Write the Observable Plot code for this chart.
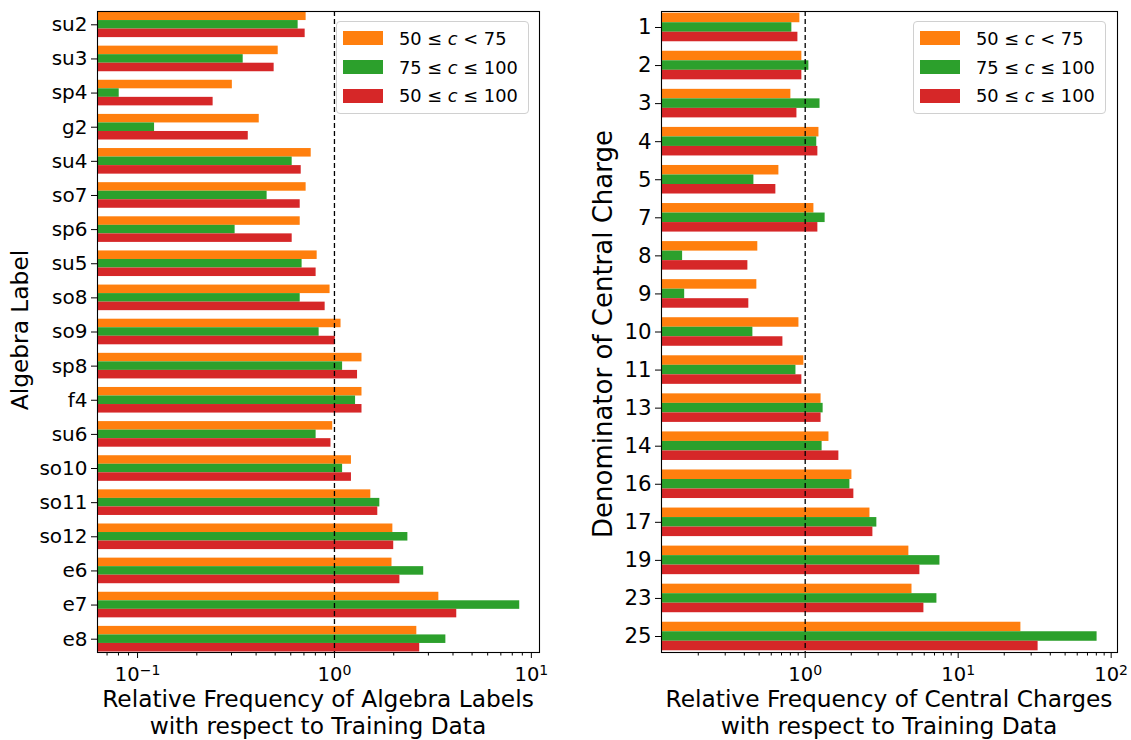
<!DOCTYPE html>
<html><head><meta charset="utf-8">
<script src="https://cdn.jsdelivr.net/npm/d3@7"></script>
<script src="https://cdn.jsdelivr.net/npm/@observablehq/plot@0.6"></script>
<style>
body{margin:0;background:#fff;font-family:"DejaVu Sans",sans-serif;color:#000;}
#fig{position:relative;width:1131px;height:740px;overflow:hidden;background:#fff;}
.panel{position:absolute;top:0;}
.panel svg{max-width:none !important;}
.xlab{position:absolute;text-align:center;font-size:23.3px;line-height:27px;white-space:nowrap;transform:translateX(-50%);}
.ylab{position:absolute;white-space:nowrap;line-height:1;transform:translate(-50%,-50%) rotate(-90deg);}
.legend{position:absolute;background:rgba(255,255,255,0.85);border:1px solid #d0d0d0;border-radius:4px;box-sizing:border-box;font-size:17.8px;padding-top:2px;}
.legend .row{display:flex;align-items:center;height:28.8px;white-space:nowrap;}
.legend .sw{width:40px;height:14px;margin:0 16px 0 6px;flex:none;}
</style></head>
<body><div id="fig"></div>
<script>
// ---------- data ----------
const seriesNames = ["50 ≤ c < 75", "75 ≤ c ≤ 100", "50 ≤ c ≤ 100"];
const seriesColors = ["#ff7f0e", "#2ca02c", "#d62728"];

const algebraLabels = ["su2","su3","sp4","g2","su4","so7","sp6","su5","so8","so9","sp8","f4","su6","so10","so11","so12","e6","e7","e8"];
const algebraLow  = [0.718,0.518,0.303,0.415,0.762,0.718,0.670,0.817,0.950,1.080,1.380,1.380,0.980,1.220,1.530,1.980,1.960,3.390,2.620];
const algebraHigh = [0.654,0.344,0.0807,0.122,0.610,0.455,0.313,0.685,0.670,0.836,1.100,1.280,0.807,1.100,1.700,2.360,2.840,8.730,3.680];
const algebraAll  = [0.710,0.494,0.242,0.365,0.678,0.670,0.610,0.807,0.897,1.010,1.310,1.380,0.960,1.220,1.660,2.000,2.150,4.180,2.710];

const denomLabels = ["1","2","3","4","5","7","8","9","10","11","13","14","16","17","19","23","25"];
const denomLow  = [0.923,0.951,0.806,1.230,0.673,1.140,0.490,0.483,0.910,0.980,1.270,1.430,2.020,2.650,4.760,4.990,25.7];
const denomHigh = [0.818,1.057,1.250,1.190,0.462,1.350,0.158,0.163,0.455,0.870,1.310,1.290,1.960,2.940,7.600,7.260,80.9];
const denomAll  = [0.896,0.951,0.883,1.210,0.643,1.210,0.422,0.428,0.715,0.951,1.270,1.660,2.080,2.770,5.620,5.970,33.3];

const leftXLabel = ["Relative Frequency of Algebra Labels", "with respect to Training Data"];
const rightXLabel = ["Relative Frequency of Central Charges", "with respect to Training Data"];
const leftYLabel = "Algebra Label";
const rightYLabel = "Denominator of Central Charge";

// ---------- helpers ----------
const fmtPow = v => "10^" + String(Math.round(Math.log10(v))).replace("-", "\u2212");

function makePanel(o) {
  const {labels, series, xDomain, pad, left, width, marginLeft, marginRight, yFont} = o;
  const n = labels.length;
  const barH = 0.25;
  const rows = [];
  labels.forEach((lab, i) => series.forEach((vals, k) => rows.push({label: lab, i, k, value: vals[i], series: seriesNames[k]})));
  const allTicks = d3.scaleLog().domain(xDomain).ticks();
  const major = allTicks.filter(v => Math.abs(Math.log10(v) - Math.round(Math.log10(v))) < 1e-9);
  const minor = allTicks.filter(v => !major.includes(v));
  const chart = Plot.plot({
    width, height: 690,
    marginLeft, marginRight, marginTop: 11, marginBottom: 38,
    style: {fontFamily: "DejaVu Sans", fontSize: "19.5px", color: "black", background: "white", overflow: "visible"},
    x: {type: "log", domain: xDomain, label: null},
    y: {domain: [-pad, n - 1 + pad], reverse: true, label: null},
    color: {domain: seriesNames, range: seriesColors},
    marks: [
      Plot.rect(rows, {
        x1: xDomain[0] / 10, x2: "value",
        y1: d => d.i - 3 * barH / 2 + d.k * barH,
        y2: d => d.i - 3 * barH / 2 + (d.k + 1) * barH,
        fill: "series", clip: true
      }),
      Plot.ruleX([1], {stroke: "black", strokeDasharray: "5,3", strokeWidth: 1.3}),
      Plot.axisY(d3.range(n), {tickFormat: i => labels[i], tickSize: 6, tickPadding: 4, fontSize: yFont, label: null}),
      Plot.axisX(major, {tickFormat: fmtPow, tickSize: 6, tickPadding: 9, fontSize: 19.5, label: null}),
      Plot.axisX(minor, {tickFormat: () => "", tickSize: 3.5, label: null}),
      Plot.frame({stroke: "black", strokeWidth: 1.1})
    ]
  });
  // render "10^k" tick labels with a real superscript
  d3.select(chart).selectAll("text").each(function () {
    const t = this.textContent;
    const m = /^10\^(.+)$/.exec(t);
    if (!m) return;
    const sel = d3.select(this);
    sel.text(null).style("font-size", "19.5px");
    sel.append("tspan").text("10");
    sel.append("tspan").attr("dy", "-0.45em").style("font-size", "14px").text(m[1]);
  });
  const wrap = document.createElement("div");
  wrap.className = "panel";
  wrap.style.left = left + "px";
  wrap.style.width = width + "px";
  wrap.appendChild(chart);
  return wrap;
}

function makeLegend(x, y) {
  const lg = document.createElement("div");
  lg.className = "legend";
  lg.style.left = x + "px"; lg.style.top = y + "px";
  lg.style.width = "193px"; lg.style.height = "93px";
  seriesNames.forEach((name, k) => {
    const row = document.createElement("div"); row.className = "row";
    const sw = document.createElement("div"); sw.className = "sw"; sw.style.background = seriesColors[k];
    const tx = document.createElement("span");
    const parts = name.split("c");
    tx.appendChild(document.createTextNode(parts[0]));
    const it = document.createElement("i"); it.textContent = "c"; tx.appendChild(it);
    tx.appendChild(document.createTextNode(parts[1]));
    row.appendChild(sw); row.appendChild(tx);
    lg.appendChild(row);
  });
  return lg;
}

function makeXLabel(lines, cx, top) {
  const d = document.createElement("div");
  d.className = "xlab";
  d.style.left = cx + "px"; d.style.top = top + "px";
  lines.forEach((l, i) => { if (i) d.appendChild(document.createElement("br")); d.appendChild(document.createTextNode(l)); });
  return d;
}
function makeYLabel(text, cx, cy, size) {
  const d = document.createElement("div");
  d.className = "ylab";
  d.style.left = cx + "px"; d.style.top = cy + "px"; d.style.fontSize = size + "px";
  d.textContent = text;
  return d;
}

const fig = document.getElementById("fig");
fig.appendChild(makePanel({labels: algebraLabels, series: [algebraLow, algebraHigh, algebraAll],
  xDomain: [0.0626, 11.0], pad: 0.39, left: 0, width: 560, marginLeft: 97, marginRight: 21, yFont: 20}));
fig.appendChild(makePanel({labels: denomLabels, series: [denomLow, denomHigh, denomAll],
  xDomain: [0.115, 110], pad: 0.42, left: 560, width: 571, marginLeft: 101, marginRight: 14, yFont: 21.3}));
fig.appendChild(makeLegend(336, 21));
fig.appendChild(makeLegend(913, 21));
fig.appendChild(makeXLabel(leftXLabel, 318, 685));
fig.appendChild(makeXLabel(rightXLabel, 889, 685));
fig.appendChild(makeYLabel(leftYLabel, 20, 330, 23.3));
fig.appendChild(makeYLabel(rightYLabel, 602.7, 334, 26));
</script>
</body></html>
